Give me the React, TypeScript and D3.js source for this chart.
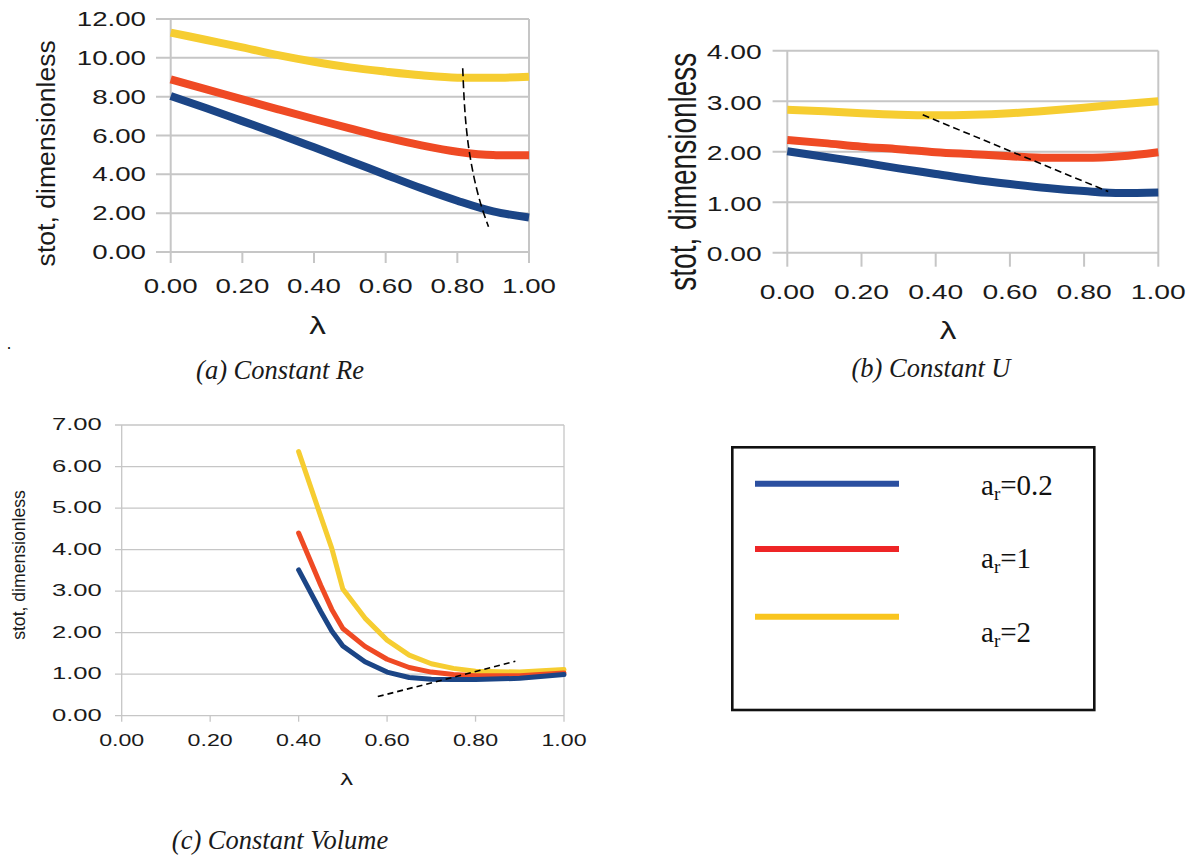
import React from 'react';
import * as d3 from 'd3';

// lambda values and read-off curves
const lambdaAB = [0, 0.1, 0.2, 0.3, 0.4, 0.5, 0.6, 0.7, 0.8, 0.9, 1.0];
const reBlue = [8.03, 7.40, 6.74, 6.08, 5.39, 4.69, 3.98, 3.28, 2.64, 2.09, 1.78];
const reRed = [8.89, 8.38, 7.86, 7.35, 6.85, 6.37, 5.90, 5.49, 5.16, 4.99, 4.98];
const reYellow = [11.30, 10.92, 10.54, 10.14, 9.80, 9.51, 9.29, 9.10, 8.98, 8.97, 9.03];
const reGuideX = [0.815, 0.835, 0.871, 0.887];
const reGuideY = [9.46, 4.98, 2.14, 1.30];

const uBlue = [2.01, 1.90, 1.79, 1.67, 1.56, 1.45, 1.36, 1.28, 1.22, 1.18, 1.19];
const uRed = [2.23, 2.17, 2.10, 2.05, 1.99, 1.95, 1.91, 1.88, 1.88, 1.91, 1.99];
const uYellow = [2.83, 2.80, 2.76, 2.73, 2.72, 2.73, 2.76, 2.81, 2.87, 2.94, 3.00];
const uGuideX = [0.365, 0.865];
const uGuideY = [2.73, 1.21];

const lambdaC = [0.4, 0.45, 0.475, 0.5, 0.55, 0.6, 0.65, 0.7, 0.75, 0.8, 0.9, 1.0];
const volBlue = [3.51, 2.51, 2.04, 1.68, 1.30, 1.05, 0.92, 0.88, 0.87, 0.87, 0.90, 0.99];
const volRed = [4.40, 3.14, 2.56, 2.10, 1.67, 1.36, 1.16, 1.05, 0.99, 0.96, 0.96, 1.03];
const volYellow = [6.36, 4.80, 4.03, 3.05, 2.35, 1.82, 1.46, 1.25, 1.14, 1.07, 1.05, 1.11];
const volGuideX = [0.579, 0.89];
const volGuideY = [0.46, 1.31];

const xTicks = [0, 0.2, 0.4, 0.6, 0.8, 1.0];
const yTicksRe = [0, 2, 4, 6, 8, 10, 12];
const yTicksU = [0, 1, 2, 3, 4];
const yTicksVol = [0, 1, 2, 3, 4, 5, 6, 7];
const legendLabels = ['0.2', '1', '2'];

const SANS = '"Liberation Sans", Arial, sans-serif';
const SERIF = '"Liberation Serif", "Times New Roman", serif';
const BLUE = '#1b4586';
const RED = '#ef4a24';
const YELLOW = '#f6cd31';
const GRID = '#c6c6c6';

const fmt = d3.format('.2f');

const T = ({ x, y, sx = 1, size, anchor = 'middle', base = 'central', rot = false, family = SANS, italic = false, children }: any) => (
  <text
    transform={`translate(${x},${y}) scale(${sx},1)${rot ? ' rotate(-90)' : ''}`}
    fontSize={size}
    fontFamily={family}
    fontStyle={italic ? 'italic' : 'normal'}
    textAnchor={anchor}
    dominantBaseline={base}
    fill="#1a1a1a"
  >
    {children}
  </text>
);

const Panel = ({ xs, series, guideX, guideY, yTicks, b, s }: any) => {
  const x = d3.scaleLinear().domain([0, 1]).range([b.left, b.right]);
  const y = d3.scaleLinear().domain([0, d3.max(yTicks) as number]).range([b.bottom, b.top]);
  const line = d3.line<number>().x((_, i) => x(xs[i])).y(d => y(d)).curve(s.curve);
  const guide = d3.line<number>().x((_, i) => x(guideX[i])).y(d => y(d)).curve(d3.curveMonotoneY);
  return (
    <g>
      {yTicks.map((t: number) => (
        <line key={'g' + t} x1={b.left - s.tickL} x2={b.right} y1={y(t)} y2={y(t)} stroke={GRID} strokeWidth={s.gridW} />
      ))}
      <line x1={b.left} x2={b.left} y1={b.top} y2={b.bottom + s.tickB} stroke={GRID} strokeWidth={s.gridW} />
      <line x1={b.right} x2={b.right} y1={b.top} y2={b.bottom + s.tickB} stroke={GRID} strokeWidth={s.gridW} />
      {xTicks.slice(1, -1).map(t => (
        <line key={'t' + t} x1={x(t)} x2={x(t)} y1={b.bottom} y2={b.bottom + s.tickB} stroke={GRID} strokeWidth={s.gridW} />
      ))}
      {series.map((d: any) => (
        <path key={d.color} d={line(d.values) || ''} fill="none" stroke={d.color} strokeWidth={s.lineW}
          strokeLinecap={s.cap} strokeLinejoin="round" />
      ))}
      <path d={guide(guideY) || ''} fill="none" stroke="#000" strokeWidth={1.6} strokeDasharray={s.dash} />
      {yTicks.map((t: number) => (
        <T key={'yl' + t} x={s.yLabRight} y={y(t) + s.yLabDy} sx={s.ySx} size={s.tickSize} anchor="end">{fmt(t)}</T>
      ))}
      {xTicks.map(t => (
        <T key={'xl' + t} x={x(t)} y={s.xLabY} sx={s.xSx} size={s.tickSize}>{fmt(t)}</T>
      ))}
      <T x={s.lamX} y={s.lamY} sx={s.lamSx} size={s.lamSize}>λ</T>
      <T x={s.titleX} y={s.titleY} sx={s.titleSx} size={s.titleSize} rot base="alphabetic">stot, dimensionless</T>
      <T x={s.capX} y={s.capY} size={26.5} family={SERIF} italic base="alphabetic">{s.caption}</T>
    </g>
  );
};

export default function App() {
  const legendColors = ['#2b4fa0', '#ee2526', '#f9c51f'];
  const legendY = [483.7, 549, 616.7];
  const legendTextY = [495, 568, 641.7];
  return (
    <svg width={1192} height={859} style={{ position: 'absolute', left: 0, top: 0, background: '#fff' }}>
      <Panel
        xs={lambdaAB}
        series={[{ color: YELLOW, values: reYellow }, { color: RED, values: reRed }, { color: BLUE, values: reBlue }]}
        guideX={reGuideX} guideY={reGuideY} yTicks={yTicksRe}
        b={{ left: 170.7, right: 529, top: 19, bottom: 252 }}
        s={{
          curve: d3.curveMonotoneX, gridW: 2, lineW: 8, cap: 'butt', dash: '8 4', tickL: 14.7, tickB: 11,
          tickSize: 20.5, ySx: 1.35, xSx: 1.35, yLabRight: 146, yLabDy: 0, xLabY: 285.7,
          lamX: 317.5, lamY: 325.5, lamSx: 1.45, lamSize: 23,
          titleX: 55, titleY: 153.3, titleSx: 1, titleSize: 26.6,
          capX: 280, capY: 379, caption: '(a) Constant Re',
        }}
      />
      <Panel
        xs={lambdaAB}
        series={[{ color: YELLOW, values: uYellow }, { color: RED, values: uRed }, { color: BLUE, values: uBlue }]}
        guideX={uGuideX} guideY={uGuideY} yTicks={yTicksU}
        b={{ left: 787.3, right: 1158.3, top: 50.7, bottom: 252.7 }}
        s={{
          curve: d3.curveMonotoneX, gridW: 2, lineW: 8, cap: 'butt', dash: '7 4', tickL: 14.7, tickB: 14,
          tickSize: 20.5, ySx: 1.38, xSx: 1.38, yLabRight: 761.7, yLabDy: 1.5, xLabY: 292,
          lamX: 948, lamY: 331, lamSx: 1.45, lamSize: 23,
          titleX: 696, titleY: 171.7, titleSx: 1.4, titleSize: 28,
          capX: 931, capY: 377, caption: '(b) Constant U',
        }}
      />
      <Panel
        xs={lambdaC}
        series={[{ color: YELLOW, values: volYellow }, { color: RED, values: volRed }, { color: BLUE, values: volBlue }]}
        guideX={volGuideX} guideY={volGuideY} yTicks={yTicksVol}
        b={{ left: 121.7, right: 564, top: 425, bottom: 715.7 }}
        s={{
          curve: d3.curveLinear, gridW: 1.3, lineW: 5, cap: 'round', dash: '6 4', tickL: 6.7, tickB: 6,
          tickSize: 16, ySx: 1.6, xSx: 1.45, yLabRight: 101.7, yLabDy: 0, xLabY: 740.5,
          lamX: 346.7, lamY: 780, lamSx: 1.6, lamSize: 16,
          titleX: 25, titleY: 565, titleSx: 1, titleSize: 17.6,
          capX: 280, capY: 849, caption: '(c) Constant Volume',
        }}
      />
      <text x={7} y={349} fontSize={16} fontFamily={SERIF}>.</text>
      <rect x={732.3} y={447.3} width={362} height={262.7} fill="none" stroke="#111" strokeWidth={2.6} />
      {legendLabels.map((lab, i) => (
        <g key={lab}>
          <line x1={755} x2={899} y1={legendY[i]} y2={legendY[i]} stroke={legendColors[i]} strokeWidth={6} />
          <text x={981} y={legendTextY[i]} fontFamily={SERIF} fontSize={29} fill="#111">
            a<tspan fontSize={19} dy={5}>r</tspan><tspan dy={-5}>={lab}</tspan>
          </text>
        </g>
      ))}
    </svg>
  );
}
